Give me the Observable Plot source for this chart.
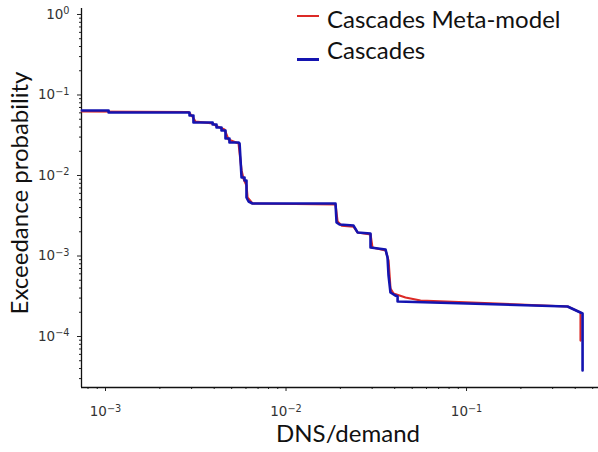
<!DOCTYPE html>
<html><head><meta charset="utf-8">
<script src="https://cdn.jsdelivr.net/npm/d3@7"></script>
<script src="https://cdn.jsdelivr.net/npm/@observablehq/plot@0.6"></script>
<style>
body{margin:0;background:#fff;}
#wrap{position:relative;width:598px;height:452px;}
.sw{position:absolute;left:297px;width:22px;}
.lt{position:absolute;left:327px;font-family:Lato,sans-serif;font-size:24px;line-height:24px;color:#111;white-space:nowrap;}
</style></head><body><div id="wrap"></div>
<script>
// Series names and colours
const seriesNames = ["Cascades Meta-model", "Cascades"];
const seriesColors = ["#dc2a26", "#1414b0"];

// Cascades Meta-model (red)
const metaX = [7.4e-4, 2.88e-3, 3.03e-3, 3.15e-3, 3.92e-3, 4.17e-3, 4.56e-3, 4.80e-3, 5.46e-3, 5.67e-3, 5.81e-3, 6.04e-3, 6.12e-3, 6.52e-3, 0.0188, 0.0193, 0.0203, 0.02366, 0.0249, 0.02938, 0.0301, 0.0356, 0.03697, 0.0379, 0.0394, 0.0459, 0.0556, 0.3627, 0.4281, 0.4281];
const metaY = [0.0624, 0.0615, 0.0541, 0.0469, 0.0443, 0.0406, 0.0373, 0.0280, 0.0250, 0.01154, 0.00918, 0.00751, 0.00533, 0.00449, 0.00436, 0.00268, 0.00239, 0.00232, 0.00196, 0.00185, 0.001275, 0.00117, 0.000879, 0.000395, 0.000342, 0.000305, 0.00028, 0.000236, 0.000199, 0.000089];

// Cascades (blue)
const cascX = [7.4e-4, 1.04e-3, 1.04e-3, 2.92e-3, 2.92e-3, 3.07e-3, 3.07e-3, 3.92e-3, 3.92e-3, 4.12e-3, 4.12e-3, 4.39e-3, 4.39e-3, 4.62e-3, 4.62e-3, 4.86e-3, 4.86e-3, 5.46e-3, 5.53e-3, 5.60e-3, 5.67e-3, 5.89e-3, 5.89e-3, 6.04e-3, 6.04e-3, 6.20e-3, 6.52e-3, 0.0188, 0.01905, 0.01979, 0.02366, 0.0249, 0.02938, 0.02938, 0.0356, 0.0365, 0.03697, 0.0379, 0.0404, 0.0415, 0.0415, 0.3627, 0.4393, 0.4393];
const cascY = [0.0642, 0.0642, 0.0606, 0.0606, 0.0556, 0.0556, 0.0455, 0.0455, 0.0430, 0.0430, 0.0395, 0.0395, 0.0362, 0.0362, 0.0288, 0.0288, 0.0257, 0.0257, 0.0250, 0.01536, 0.00944, 0.00944, 0.00867, 0.00867, 0.00533, 0.00475, 0.00449, 0.00449, 0.00261, 0.00246, 0.00239, 0.00196, 0.00190, 0.001275, 0.001204, 0.000958, 0.000573, 0.000352, 0.000323, 0.000314, 0.000272, 0.000236, 0.000193, 0.0000378];

// Ticks (base 10, exponent shown as superscript)
const xMajor = [1e-3, 1e-2, 1e-1];
const xTickExp = ["−3", "−2", "−1"];
const yMajor = [1e-4, 1e-3, 1e-2, 1e-1, 1];
const yTickExp = ["−4", "−3", "−2", "−1", "0"];
const xTitle = "DNS/demand";
const yTitle = "Exceedance probability";

const xDomain = [10 ** -3.133, 10 ** -0.269];
const yDomain = [10 ** -4.6335, 10 ** 0.0745];
function minorTicks(lo, hi, dom) {
  const r = [];
  for (let e = lo; e <= hi; e++) for (let k = 2; k <= 9; k++) r.push(k * 10 ** e);
  return r.filter(v => v >= dom[0] && v <= dom[1]);
}
const xMinor = minorTicks(-4, -1, xDomain);
const yMinor = minorTicks(-5, -1, yDomain);

const meta = metaX.map((x, i) => ({x, y: metaY[i]}));
const casc = cascX.map((x, i) => ({x, y: cascY[i]}));

const plot = Plot.plot({
  width: 598, height: 452,
  marginLeft: 81, marginRight: 0, marginTop: 8, marginBottom: 65,
  x: {type: "log", domain: xDomain},
  y: {type: "log", domain: yDomain},
  style: {fontFamily: "DejaVu Sans", background: "white", overflow: "visible"},
  marks: [
    Plot.axisX({ticks: xMinor, tickSize: 2, tickFormat: () => "", label: null, stroke: "#222"}),
    Plot.axisY({ticks: yMinor, tickSize: 2, tickFormat: () => "", label: null, stroke: "#222"}),
    Plot.axisX({ticks: xMajor, tickSize: 4, tickPadding: 15, fontSize: 13.5, fill: "#333", stroke: "#222",
      tickFormat: d => "10^" + xTickExp[xMajor.indexOf(d)], label: null}),
    Plot.axisY({ticks: yMajor, tickSize: 4, tickPadding: 8, fontSize: 13.5, fill: "#333", stroke: "#222",
      tickFormat: d => "10^" + yTickExp[yMajor.indexOf(d)], label: null}),
    Plot.ruleX([xDomain[0]], {stroke: "#111", strokeWidth: 1.3}),
    Plot.ruleY([yDomain[0]], {stroke: "#111", strokeWidth: 1.3}),
    Plot.line(meta, {x: "x", y: "y", stroke: seriesColors[0], strokeWidth: 2.2}),
    Plot.line(casc, {x: "x", y: "y", stroke: seriesColors[1], strokeWidth: 2.6}),
    Plot.text([yTitle], {frameAnchor: "left", textAnchor: "middle", lineAnchor: "middle", rotate: -90, dx: -61, dy: -5, fontSize: 24, fontFamily: "Lato", fill: "#111"}),
    Plot.text([xTitle], {frameAnchor: "bottom", textAnchor: "middle", lineAnchor: "middle", dx: 8, dy: 47, fontSize: 24, fontFamily: "Lato", fill: "#111"})
  ]
});

// Turn "10^e" tick texts into 10 with a superscript exponent
plot.querySelectorAll("text").forEach(t => {
  const s = t.textContent;
  if (s.startsWith("10^")) {
    const exp = s.slice(3);
    t.textContent = "10";
    const sup = document.createElementNS("http://www.w3.org/2000/svg", "tspan");
    sup.setAttribute("dy", "-0.45em");
    sup.setAttribute("font-size", "0.72em");
    sup.textContent = exp;
    t.appendChild(sup);
  }
});

const wrap = document.getElementById("wrap");
wrap.appendChild(plot);

// Legend overlay
const legTops = [7, 38];
const swTops = [15, 57.5];
const swH = [2, 3];
seriesNames.forEach((name, i) => {
  const sw = document.createElement("div");
  sw.className = "sw";
  sw.style.top = swTops[i] + "px";
  sw.style.height = swH[i] + "px";
  sw.style.background = seriesColors[i];
  wrap.appendChild(sw);
  const t = document.createElement("div");
  t.className = "lt";
  t.style.top = legTops[i] + "px";
  t.textContent = name;
  wrap.appendChild(t);
});
</script></body></html>
